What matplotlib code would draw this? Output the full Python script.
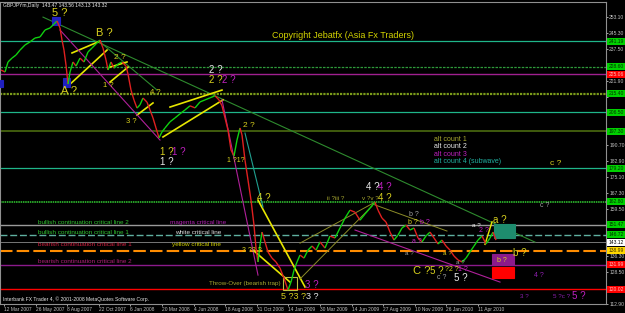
"""GBPJPY daily chart with Elliott wave counts (MT4 style)."""
import matplotlib
matplotlib.use('Agg')
import matplotlib.pyplot as plt
from matplotlib.transforms import blended_transform_factory
from matplotlib.patches import Rectangle

# price path (chart position, close)
bar_x = [1, 5, 8, 12, 16, 20, 25, 30, 35, 40, 45, 50, 54, 57, 60, 62, 64, 66, 68, 70,
         73, 76, 80, 84, 88, 92, 96, 100, 103, 106, 108, 111, 114, 118, 122, 126, 128, 131, 134, 137,
         140, 143, 147, 150, 153, 156, 159, 162, 165, 170, 175, 180, 185, 190, 195, 200, 205, 210, 215, 219,
         222, 225, 228, 231, 234, 237, 240, 242, 245, 248, 251, 254, 256, 258, 260, 262, 265, 268, 272, 276,
         280, 284, 288, 291, 294, 297, 300, 304, 308, 312, 316, 320, 325, 330, 335, 340, 345, 350, 355, 360,
         365, 370, 375, 378, 382, 386, 390, 394, 398, 402, 406, 410, 414, 418, 422, 426, 430, 434, 438, 442,
         446, 450, 454, 458, 462, 466, 470, 474, 478, 482, 486, 490, 493, 496]
close = [227.1, 226.1, 231.0, 232.9, 234.4, 236.8, 239.3, 240.8, 242.7, 243.2, 246.6, 247.6, 249.5, 251.0, 247.6, 241.7, 236.8, 229.5, 220.2, 226.1,
         231.0, 229.0, 232.9, 231.0, 235.9, 237.8, 239.8, 241.7, 237.8, 232.0, 227.1, 231.0, 228.0, 230.0, 231.0, 229.0, 225.1, 217.3, 212.4, 208.5,
         210.1, 213.4, 211.4, 207.6, 203.7, 198.8, 194.0, 196.9, 198.8, 201.8, 203.7, 205.7, 207.6, 209.6, 208.6, 211.5, 212.5, 213.5, 214.5, 212.5,
         209.6, 203.7, 197.8, 188.1, 185.1, 192.9, 198.8, 195.4, 183.1, 173.4, 163.6, 151.4, 140.2, 133.4, 141.7, 148.0, 143.2, 138.3, 135.3, 133.4,
         130.4, 125.5, 119.7, 123.6, 129.4, 133.4, 136.8, 135.3, 139.2, 141.2, 139.2, 143.2, 140.2, 146.1, 145.1, 150.0, 154.8, 158.7, 157.7, 153.8,
         156.8, 159.7, 162.6, 158.7, 154.8, 152.9, 148.0, 144.1, 146.5, 150.0, 151.4, 149.0, 150.0, 145.1, 143.2, 146.1, 148.0, 145.1, 142.2, 144.1,
         141.2, 139.2, 136.3, 134.4, 133.4, 135.3, 138.3, 141.2, 144.1, 146.1, 142.2, 145.1, 148.0, 144.1]

date_labels = ['12 Mar 2007', '26 May 2007', '8 Aug 2007', '22 Oct 2007', '6 Jan 2008', '20 Mar 2008',
               '4 Jun 2008', '18 Aug 2008', '31 Oct 2008', '14 Jan 2009', '30 Mar 2009', '14 Jun 2009',
               '27 Aug 2009', '10 Nov 2009', '26 Jan 2010', '11 Apr 2010']
date_pos = [4 + 31.6 * i for i in range(len(date_labels))]

price_ticks = [253.10, 245.30, 237.50, 229.70, 221.90, 214.10, 206.30, 198.50, 190.70, 182.90,
               175.10, 167.30, 159.50, 151.70, 143.90, 136.30, 128.50, 120.70, 112.90]
# ticks whose labels sit under a price tag in the reference
hidden_ticks = [229.70, 214.10, 206.30, 198.50, 151.70, 143.90]

# horizontal levels: price, colour, style, width
levels = [
    (241.19, '#1FB589', '-', 0.9),
    (228.60, '#2E9A3A', (0, (2, 1)), 0.9),
    (225.06, '#A0208F', '-', 1.0),
    (215.40, '#7A9A1A', (0, (1, 0.5)), 1.6),
    (206.50, '#1FB589', '-', 0.9),
    (197.30, '#4B6B10', '-', 1.2),
    (179.20, '#1FB589', '-', 0.9),
    (162.80, '#32CD32', (0, (1, 0.5)), 1.1),
    (151.47, '#9A9A9A', '-', 1.0),
    (146.72, '#5FB0A0', (0, (5, 2)), 1.0),
    (143.12, '#8A8A8A', '-', 0.6),
    (138.99, '#FF8C00', (0, (6, 2)), 1.5),
    (132.00, '#8B1A8B', '-', 1.0),
    (120.02, '#FF0000', '-', 1.0),
]

# right-axis price tags: price, text, background, text colour
tags = [
    (241.19, '241.19', '#00D000', '#003000'),
    (228.60, '228.60', '#00D000', '#003000'),
    (225.06, '225.06', '#FF0000', '#FFC0C0'),
    (215.40, '215.40', '#00D000', '#003000'),
    (206.50, '206.50', '#00D000', '#003000'),
    (197.30, '197.30', '#00D000', '#003000'),
    (179.20, '179.20', '#00D000', '#003000'),
    (162.80, '162.80', '#00D000', '#003000'),
    (151.47, '151.47', '#00D000', '#003000'),
    (146.72, '146.72', '#00D000', '#003000'),
    (143.12, '143.12', '#FFFFFF', '#000000'),
    (138.99, '138.99', '#FFD700', '#403000'),
    (132.00, '131.99', '#FF0000', '#FFC0C0'),
    (120.02, '120.02', '#FF0000', '#FFC0C0'),
]

YEL = '#D8D01E'
OLV = '#A8A830'
MAG = '#C020C0'
WHT = '#E8E8E8'
GRY = '#A0A0A0'
TEAL = '#20B0A0'

# wave labels: x, price, text, colour, size
labels = [
    (52, 254.9, '5 ?', YEL, 8), (96, 245.1, 'B ?', YEL, 8), (61, 216.8, 'A ?', YEL, 8),
    (114, 233.4, '2 ?', YEL, 6), (103, 219.3, '1 ?', YEL, 5.5), (150, 216.3, '4 ?', YEL, 5.5),
    (126, 202.2, '3 ?', YEL, 5.5), (209, 227.1, '2 ?', WHT, 7), (209, 222.2, '2 ?', YEL, 7),
    (222, 222.2, '2 ?', MAG, 7), (160, 187.1, '1 ?', YEL, 7), (172, 187.1, '1 ?', MAG, 7),
    (160, 182.2, '1 ?', WHT, 7), (243, 199.8, '2 ?', YEL, 6), (227, 182.7, '1 ?1?', YEL, 5),
    (257, 164.5, '4 ?', YEL, 7), (242, 139.2, '3 ?2 ?', YEL, 5),
    (209, 123.0, 'Throw-Over (bearish trap)', OLV, 4.5),
    (281, 116.7, '5 ?3 ?', YEL, 6.5), (306, 116.7, '3 ?', WHT, 6.5), (305, 122.1, '3 ?', MAG, 7),
    (366, 169.9, '4 ?', WHT, 7), (378, 169.9, '4 ?', MAG, 7),
    (327, 164.5, 'ii ?iii ?', OLV, 4.5), (362, 164.5, 'v ?v ?', OLV, 4.5), (378, 164.5, '4 ?', YEL, 7),
    (550, 181.7, 'c ?', YEL, 6), (540, 161.2, 'c ?', GRY, 5),
    (413, 129.0, 'C ?', YEL, 8), (430, 129.0, '5 ?', YEL, 7), (445, 129.5, '?2 ?', YEL, 5),
    (458, 129.5, '1 ?', MAG, 5), (437, 125.6, 'c ?', GRY, 5), (454, 125.6, '5 ?', WHT, 7),
    (409, 156.7, 'b ?', GRY, 5), (408, 152.9, 'b ?', YEL, 5), (420, 152.9, 'b ?', MAG, 5),
    (412, 143.2, 'a ?', MAG, 5), (405, 137.3, 'a ?', GRY, 4.5), (443, 137.3, 'a ?', YEL, 4.5),
    (456, 133.0, 'a ?', GRY, 4.5), (472, 151.4, 'a ?', WHT, 4.5), (479, 149.0, '2 ?', MAG, 5),
    (493, 153.8, 'a ?', YEL, 7), (513, 137.8, 'b ?', YEL, 7), (497, 133.9, 'b ?', YEL, 5),
    (534, 126.6, '4 ?', '#9020B0', 5), (520, 116.7, '3 ?', '#9020B0', 4.5),
    (553, 116.7, '5 ?c ?', '#9020B0', 4.5), (572, 116.7, '5 ?', MAG, 7),
]

legend_rows = [('alt count 1', OLV), ('alt count 2', WHT), ('alt count 3', MAG), ('alt count 4 (subwave)', TEAL)]
legend_prices = [193.4, 189.7, 185.9, 182.2]

line_notes = [
    (38, 152.8, 'bullish continuation critical line 2', '#30C030'),
    (38, 147.9, 'bullish continuation critical line 1', '#30C030'),
    (38, 141.7, 'bearish continuation critical line 1', '#D02040'),
    (38, 133.4, 'bearish continuation critical line 2', '#B0207A'),
    (170, 152.8, 'magenta critical line', '#B020B0'),
    (175, 147.9, 'white critical line', '#E0E0E0'),
    (172, 141.7, 'yellow critical line', '#D0D000'),
]

# trend / channel lines: x0, p0, x1, p1, colour, width
segments = [
    (43, 252.9, 535, 143.1, '#2E8B2E', 0.8),
    (100, 240.8, 157, 217.3, '#2E8B2E', 0.8),
    (67, 218.8, 107, 236.8, '#E6E600', 1.2),
    (72, 235.4, 100, 241.2, '#E6E600', 1.2),
    (110, 228.5, 127, 231.0, '#E6E600', 1.2),
    (110, 221.2, 128, 228.5, '#E6E600', 1.2),
    (163, 194.4, 223, 212.5, '#E6E600', 1.2),
    (170, 209.0, 222, 217.3, '#E6E600', 1.2),
    (137, 205.1, 153, 211.0, '#E6E600', 1.2),
    (258, 163.6, 305, 121.2, '#E6E600', 1.2),
    (253, 139.2, 290, 123.6, '#E6E600', 1.2),
    (300, 125.1, 372, 160.7, '#8C8C28', 0.7),
    (300, 142.6, 375, 162.6, '#8C8C28', 0.7),
    (373, 161.6, 447, 148.5, '#8C8C28', 0.7),
    (60, 246.6, 160, 192.9, '#B0209A', 0.8),
    (222, 212.5, 258, 127.0, '#B0209A', 0.8),
    (355, 149.0, 500, 123.6, '#B0209A', 0.8),
    (245, 196.3, 263, 160.2, '#20A090', 0.8),
    (485, 142.0, 492, 153.0, '#E6E600', 1.0),
]

# boxes: x0, x1, p_low, p_high, face, edge, fill
boxes = [
    (494, 515, 145.1, 151.9, '#1E8C6E', '#1E8C6E', True),
    (492, 514, 131.9, 137.3, '#8B1A8B', '#8B1A8B', True),
    (492, 514, 125.6, 130.9, '#FF0000', '#FF0000', True),
    (52, 60, 249.0, 252.9, '#2020C0', '#2020C0', True),
    (63, 70, 218.8, 223.2, '#2020C0', '#2020C0', True),
    (0, 3, 218.8, 222.2, '#2020C0', '#2020C0', True),
    (283, 297, 119.7, 126.1, 'none', '#C0C040', False),
]

plt.rcParams['font.family'] = ['Liberation Sans', 'DejaVu Sans']

fig = plt.figure(figsize=(6.25, 3.13), dpi=100, facecolor='black')
ax = fig.add_axes([0.0, 9 / 313, 606 / 625, 302 / 313], facecolor='black')
ax.set_xlim(0, 606)
ax.set_ylim(112.9, 260.27)

for p, c, ls, lw in levels:
    ax.axhline(p, color=c, ls=ls, lw=lw, zorder=1)

for x0, p0, x1, p1, c, lw in segments:
    ax.plot([x0, x1], [p0, p1], color=c, lw=lw, zorder=2)

for x0, x1, lo, hi, fc, ec, fill in boxes:
    ax.add_patch(Rectangle((x0, lo), x1 - x0, hi - lo, facecolor=fc if fill else 'none',
                           edgecolor=ec, lw=0.8, zorder=3))

# price as up/down coloured segments
for i in range(1, len(bar_x)):
    up = close[i] >= close[i - 1]
    ax.plot(bar_x[i - 1:i + 1], close[i - 1:i + 1], color='#10D010' if up else '#E02020',
            lw=1.0, zorder=4, solid_capstyle='butt')

for x, p, t, c, s in labels:
    ax.text(x, p, t, color=c, fontsize=s, va='center', ha='left', zorder=5)

for (t, c), p in zip(legend_rows, legend_prices):
    ax.text(434, p, t, color=c, fontsize=5, va='center', ha='left')

for x, p, t, c in line_notes:
    ax.text(x, p, t, color=c, fontsize=4.6, va='center', ha='left')

ax.text(272, 243.7, 'Copyright Jebatfx (Asia Fx Traders)', color='#D4D400', fontsize=6.5, va='center')
ax.text(3, 258.6, 'GBPJPYm,Daily  143.47 143.56 143.13 143.32', color=WHT, fontsize=3.6, va='center')
ax.text(3, 115.3, 'Interbank FX Trader 4, \u00a9 2001-2008 MetaQuotes Software Corp.', color=WHT,
        fontsize=3.6, va='center')

# axes styling
for side in ['top', 'right', 'bottom', 'left']:
    ax.spines[side].set_color('#909090')
    ax.spines[side].set_linewidth(0.8)
ax.yaxis.tick_right()
ax.set_yticks(price_ticks)
ax.set_yticklabels(['' if v in hidden_ticks else f'{v:.2f}' for v in price_ticks])
ax.tick_params(axis='y', colors='#C0C0C0', labelsize=3.6, length=1.5, width=0.6, pad=0.8)
ax.set_xticks(date_pos)
ax.set_xticklabels(date_labels, ha='left')
ax.tick_params(axis='x', colors='#C0C0C0', labelsize=3.5, length=1.5, width=0.6, pad=0.8)

tr = blended_transform_factory(ax.transAxes, ax.transData)
for p, t, bg, fg in tags:
    ax.text(1.004, p, t, transform=tr, fontsize=3.6, color=fg, va='center', ha='left',
            clip_on=False, zorder=6,
            bbox=dict(boxstyle='square,pad=0.2', facecolor=bg, edgecolor='none'))

fig.savefig('out.png', dpi=100, facecolor='black')
